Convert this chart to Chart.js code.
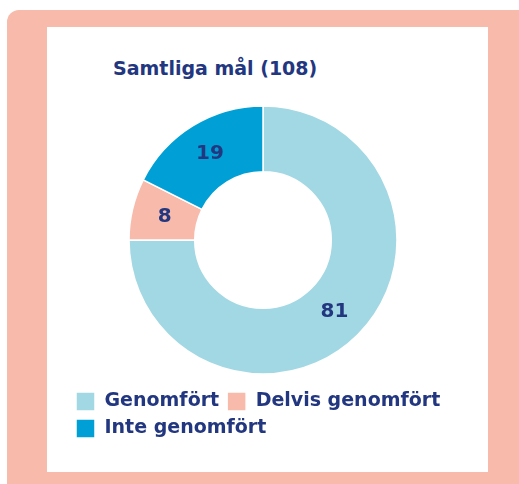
<!DOCTYPE html>
<html>
<head>
<meta charset="utf-8">
<script src="https://cdn.jsdelivr.net/npm/chart.js@4"></script>
<style>
  html, body { margin: 0; padding: 0; background: #fff; }
  body { width: 519px; height: 484px; position: relative; overflow: hidden; }
  .ram {
    position: absolute; left: 7px; top: 10px; width: 520px; height: 490px;
    background: #f7baab; border-radius: 12px 8px 0 0;
  }
  .panel {
    position: absolute; left: 47px; top: 27px; width: 441px; height: 445px;
    background: #fff;
  }
  .rubrik {
    position: absolute; left: 113px; top: 57px; margin: 0;
    font: bold 19px "DejaVu Sans", sans-serif; color: #22377f;
  }
  #diagram { position: absolute; left: 61px; top: 96px; }
</style>
</head>
<body>
<div class="ram"></div>
<div class="panel"></div>
<h1 class="rubrik">Samtliga mål (108)</h1>
<canvas id="diagram" width="420" height="352"></canvas>
<script>
const kategorier = ['Genomfört', 'Delvis genomfört', 'Inte genomfört'];
const antal = [81, 8, 19];
const farger = ['#a2d8e3', '#f7baab', '#00a0d6'];
const textfarg = '#22377f';

// skriver ut antalet mitt i varje segment
const segmentEtiketter = {
  id: 'segmentEtiketter',
  afterDatasetsDraw(chart) {
    const ctx = chart.ctx;
    const meta = chart.getDatasetMeta(0);
    ctx.save();
    ctx.font = 'bold 20px "DejaVu Sans", sans-serif';
    ctx.fillStyle = textfarg;
    ctx.textAlign = 'center';
    ctx.textBaseline = 'middle';
    meta.data.forEach((arc, i) => {
      const p = arc.tooltipPosition();
      ctx.fillText(String(chart.data.datasets[0].data[i]), p.x, p.y);
    });
    ctx.restore();
  }
};

new Chart(document.getElementById('diagram'), {
  type: 'doughnut',
  data: {
    labels: kategorier,
    datasets: [{
      data: antal,
      backgroundColor: farger,
      borderColor: '#ffffff',
      borderWidth: 1.5,
      radius: 134,
      cutout: 73
    }]
  },
  options: {
    responsive: false,
    animation: false,
    layout: { padding: { left: 7, right: 23, top: 0, bottom: 0 } },
    plugins: {
      title: { display: false },
      tooltip: { enabled: false },
      legend: {
        position: 'bottom',
        align: 'start',
        labels: {
          boxWidth: 19,
          boxHeight: 19,
          padding: 8,
          color: textfarg,
          font: { family: '"DejaVu Sans", sans-serif', size: 19, weight: 'bold' }
        }
      }
    }
  },
  plugins: [segmentEtiketter]
});
</script>
</body>
</html>
